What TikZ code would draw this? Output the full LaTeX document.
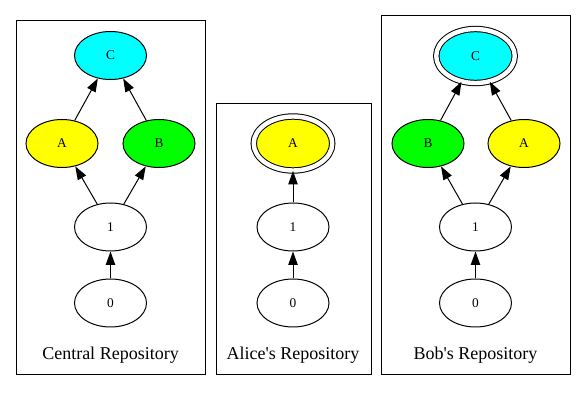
\documentclass[tikz,border=0pt]{standalone}
\usepackage{fontspec}
\setmainfont{Liberation Serif}
\usetikzlibrary{arrows.meta,shapes.geometric}

\definecolor{gvcyan}{RGB}{0,255,255}
\definecolor{gvyellow}{RGB}{255,255,0}
\definecolor{gvgreen}{RGB}{0,255,0}

\tikzset{
  commit/.style={ellipse, draw, line width=0.75pt, minimum width=54pt, minimum height=36pt,
    inner sep=0pt, font=\fontsize{10}{12}\selectfont},
  headcommit/.style={commit, double, double distance=3.3pt, minimum width=58.9pt, minimum height=40.5pt},
  parent/.style={-{Triangle[length=10pt,width=7pt]}, line width=0.75pt},
  repobox/.style={draw, line width=0.75pt},
  repolabel/.style={font=\fontsize{13.5}{16}\selectfont}
}

\begin{document}
\begin{tikzpicture}[x=0.75pt,y=-0.75pt]
  \useasboundingbox (0,0) rectangle (587,403);

  % central repository
  \draw[repobox] (16,21) rectangle (205,375);
  \node[commit, fill=gvcyan]   (cC) at (110.5,55.5) {C};
  \node[commit, fill=gvyellow] (cA) at (62,143.5) {A};
  \node[commit, fill=gvgreen]  (cB) at (159,143.5) {B};
  \node[commit]                (c1) at (110.5,227) {1};
  \node[commit]                (c0) at (110.5,303) {0};
  \node[repolabel] (cLabel) at (110.5,355) {Central Repository};

  % alice
  \draw[repobox] (216,104) rectangle (371,375);
  \node[headcommit, fill=gvyellow] (aA) at (293,143.5) {A};
  \node[commit]                    (a1) at (293,227) {1};
  \node[commit]                    (a0) at (293,303) {0};
  \node[repolabel] (aLabel) at (293,355) {Alice\textquotesingle s Repository};

  % bob
  \draw[repobox] (381,16) rectangle (570,375);
  \node[headcommit, fill=gvcyan] (bC) at (475.5,56) {C};
  \node[commit, fill=gvgreen]    (bB) at (428,143.5) {B};
  \node[commit, fill=gvyellow]   (bA) at (524,143.5) {A};
  \node[commit]                  (b1) at (475.5,227) {1};
  \node[commit]                  (b0) at (475.5,303) {0};
  \node[repolabel] (bLabel) at (475.5,355) {Bob\textquotesingle s Repository};

  % parent links
  \foreach \from/\to in {c0/c1, c1/cA, c1/cB, cA/cC, cB/cC,
                         a0/a1, a1/aA,
                         b0/b1, b1/bB, b1/bA, bB/bC, bA/bC} {
    \draw[parent] (\from) -- (\to);
  }
\end{tikzpicture}
\end{document}
